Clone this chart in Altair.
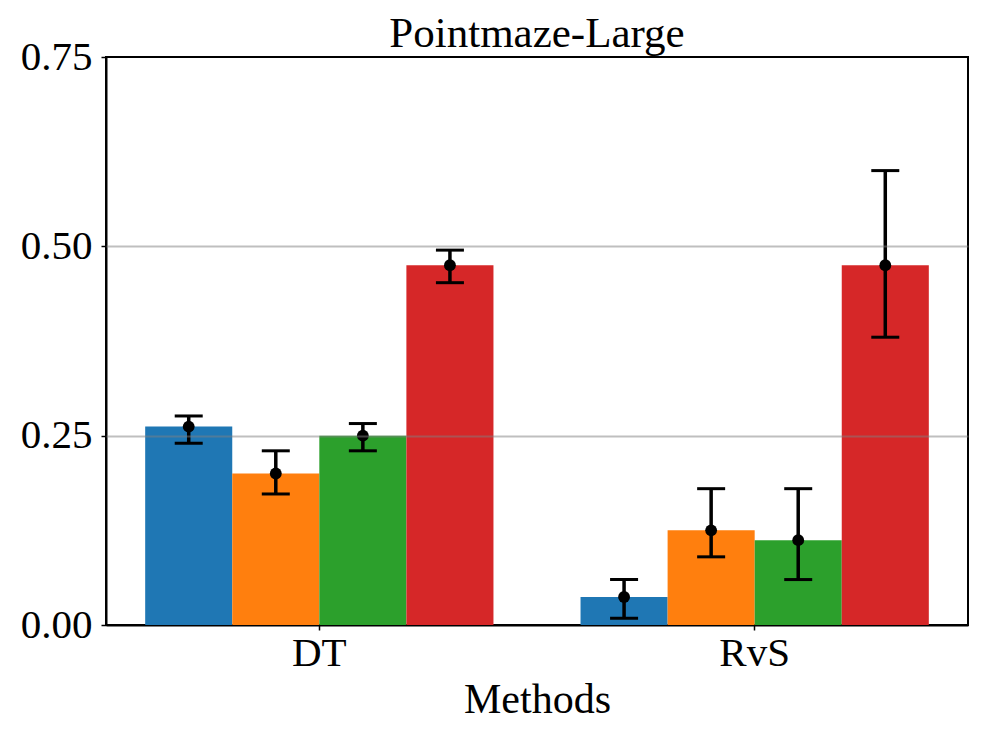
import altair as alt
import pandas as pd

methods = ["DT", "RvS"]
series = ["S1", "S2", "S3", "S4"]
colors = ["#1f77b4", "#ff7f0e", "#2ca02c", "#d62728"]

dt_mean = [0.262, 0.200, 0.250, 0.475]
dt_low = [0.240, 0.173, 0.230, 0.452]
dt_high = [0.276, 0.230, 0.266, 0.495]

rvs_mean = [0.037, 0.125, 0.112, 0.475]
rvs_low = [0.009, 0.090, 0.060, 0.380]
rvs_high = [0.060, 0.180, 0.180, 0.600]

grid_values = [0.25, 0.5]

rows = []
for m, means, lows, highs in [("DT", dt_mean, dt_low, dt_high), ("RvS", rvs_mean, rvs_low, rvs_high)]:
    for s, v, lo, hi in zip(series, means, lows, highs):
        rows.append({"method": m, "series": s, "value": v, "low": lo, "high": hi})
df = pd.DataFrame(rows)

FONT = "Liberation Serif"

x = alt.X("method:N", sort=methods,
          scale=alt.Scale(paddingInner=0.2, paddingOuter=0.09),
          axis=alt.Axis(title="Methods", labelAngle=0, labelFontSize=41, titleFontSize=42,
                        labelFont=FONT, titleFont=FONT, labelColor="black", titleColor="black",
                        tickSize=5, tickWidth=1.5, tickColor="black", domainColor="black", domainWidth=2,
                        labelPadding=3, titlePadding=6, titleFontWeight="normal", grid=False))
xo = alt.XOffset("series:N", sort=series, scale=alt.Scale(paddingInner=0, paddingOuter=0))
yscale = alt.Scale(domain=[0, 0.75], nice=False, zero=True)

bars = alt.Chart(df).mark_bar().encode(
    x=x, xOffset=xo,
    y=alt.Y("value:Q", scale=yscale,
            axis=alt.Axis(title=None, values=[0, 0.25, 0.5, 0.75], format=".2f",
                          labelFontSize=41, labelFont=FONT, labelColor="black",
                          tickSize=5, tickWidth=1.5, tickColor="black", domainColor="black", domainWidth=2,
                          labelPadding=9, grid=False)),
    color=alt.Color("series:N", sort=series, scale=alt.Scale(domain=series, range=colors), legend=None),
)

rules = alt.Chart(df).mark_rule(color="black", strokeWidth=3.5).encode(
    x=alt.X("method:N", sort=methods), xOffset=xo,
    y=alt.Y("low:Q", scale=yscale,
            axis=alt.Axis(orient="right", values=grid_values, grid=True, gridColor="#808080",
                          gridOpacity=0.5, gridWidth=2, labels=False, ticks=False, domain=False,
                          title=None, zindex=1)),
    y2="high:Q",
)
caps_hi = alt.Chart(df).mark_tick(color="black", thickness=3, size=28, opacity=1).encode(
    x=alt.X("method:N", sort=methods), xOffset=xo,
    y=alt.Y("high:Q", scale=yscale, axis=None),
)
caps_lo = alt.Chart(df).mark_tick(color="black", thickness=3, size=28, opacity=1).encode(
    x=alt.X("method:N", sort=methods), xOffset=xo,
    y=alt.Y("low:Q", scale=yscale, axis=None),
)
pts = alt.Chart(df).mark_point(filled=True, color="black", opacity=1, size=140).encode(
    x=alt.X("method:N", sort=methods), xOffset=xo,
    y=alt.Y("value:Q", scale=yscale, axis=None),
)

chart = alt.layer(bars, rules, caps_hi, caps_lo, pts).resolve_axis(y="independent").properties(
    width=862, height=568,
    background="white",
    title=alt.TitleParams("Pointmaze-Large", font=FONT, fontSize=43, fontWeight="normal",
                          color="black", offset=-20, anchor="middle"),
    autosize=alt.AutoSizeParams(type="none"),
    padding={"left": 98, "top": 49, "right": 10, "bottom": 100},
).configure_view(stroke="black", strokeWidth=2, strokeOpacity=1)

chart.save("out.html", embed_options={"renderer": "svg", "actions": False})
